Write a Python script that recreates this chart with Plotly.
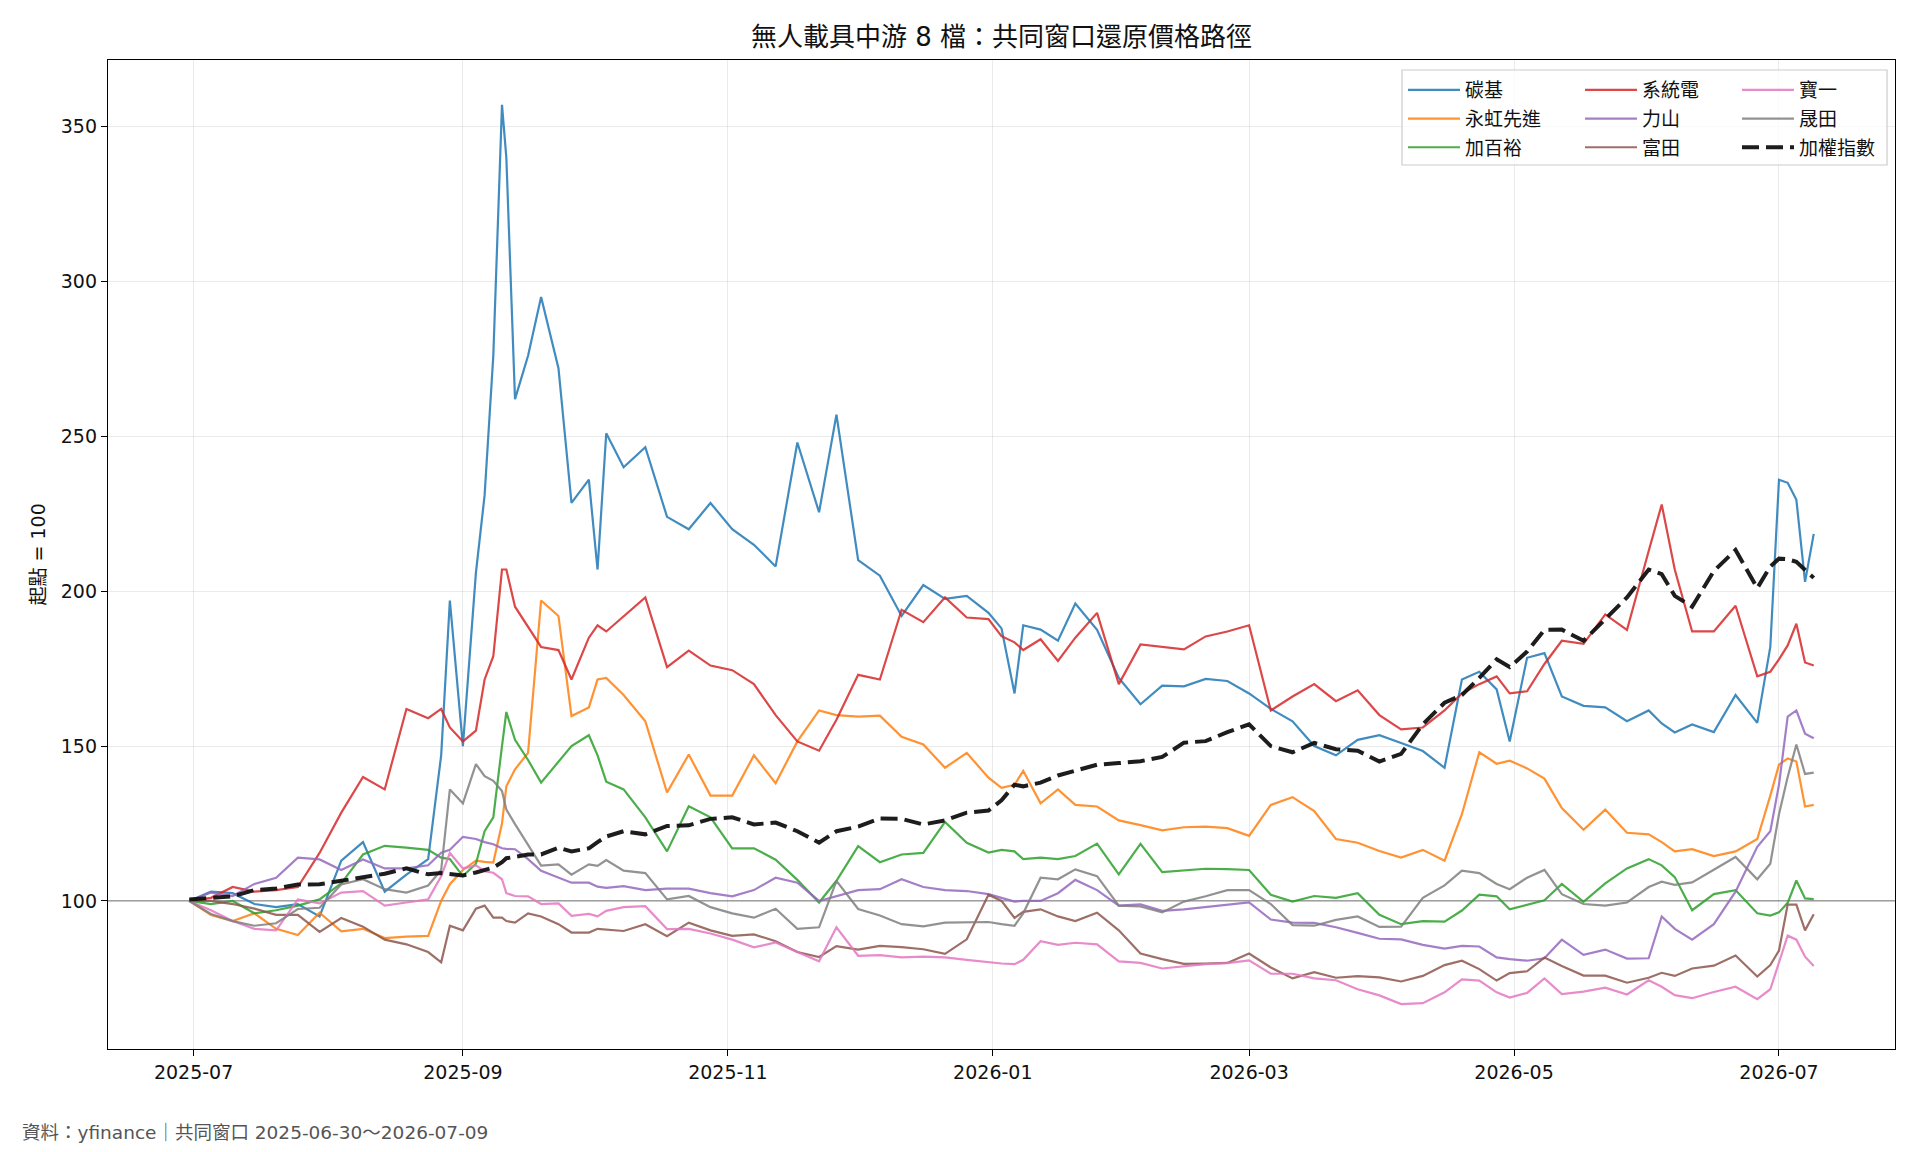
import plotly.graph_objects as go

dates = ["2025-06-30","2025-07-05","2025-07-10","2025-07-15","2025-07-20","2025-07-25","2025-07-30","2025-08-04","2025-08-09","2025-08-14",
         "2025-08-19","2025-08-24","2025-08-27","2025-08-29","2025-09-01","2025-09-04","2025-09-06","2025-09-08","2025-09-10","2025-09-11",
         "2025-09-13","2025-09-16","2025-09-19","2025-09-23","2025-09-26","2025-09-30","2025-10-02","2025-10-04","2025-10-08","2025-10-13",
         "2025-10-18","2025-10-23","2025-10-28","2025-11-02","2025-11-07","2025-11-12","2025-11-17","2025-11-22","2025-11-26","2025-12-01",
         "2025-12-06","2025-12-11","2025-12-16","2025-12-21","2025-12-26","2025-12-31","2026-01-03","2026-01-06","2026-01-08","2026-01-12",
         "2026-01-16","2026-01-20","2026-01-25","2026-01-30","2026-02-04","2026-02-09","2026-02-14","2026-02-19","2026-02-24","2026-03-01",
         "2026-03-06","2026-03-11","2026-03-16","2026-03-21","2026-03-26","2026-03-31","2026-04-05","2026-04-10","2026-04-15","2026-04-19",
         "2026-04-23","2026-04-27","2026-04-30","2026-05-04","2026-05-08","2026-05-12","2026-05-17","2026-05-22","2026-05-27","2026-06-01",
         "2026-06-04","2026-06-07","2026-06-11","2026-06-16","2026-06-21","2026-06-26","2026-06-29","2026-07-01","2026-07-03","2026-07-05",
         "2026-07-07","2026-07-09"]

tanji = [100, 103, 102.5, 99, 98, 99, 95, 113, 119, 103, 108.5, 113.5, 147, 197, 150, 206, 231, 276, 357, 340,
         262, 276, 295, 272, 228.5, 236, 207, 251, 240, 246.5, 224, 220, 228.5, 220, 215, 208, 248, 225.5, 257, 210,
         205, 192, 202, 197.5, 198.5, 193, 188, 167, 189, 187.6, 184, 196, 187.5, 172, 163.5, 169.5, 169.3, 171.7, 171, 167,
         162, 158, 150, 147, 152, 153.5, 151, 148.4, 143, 171.5, 174, 168.3, 151.5, 178.5, 180, 166, 163, 162.5, 158, 161.5,
         157.3, 154.4, 157, 154.5, 166.5, 157.5, 182, 236, 235, 229.5, 203, 218.5]

yonghong = [100, 95.5, 93.5, 96, 91, 89, 96.2, 90.2, 91, 88, 88.5, 88.7, 100, 105.4, 110, 113, 112.6, 112.4, 125, 137,
            142.5, 147.8, 197, 192, 159.7, 162.5, 171.5, 172, 166.5, 158, 135, 147.3, 134, 134, 147, 138, 151.5, 161.5, 160, 159.5,
            159.8, 153, 150.5, 143, 147.8, 139.8, 136.5, 137.5, 142, 131.5, 136, 131, 130.5, 126, 124.5, 122.8, 123.8, 124, 123.5, 121,
            131, 133.5, 129, 120, 118.8, 116.1, 114, 116.5, 113, 128, 148, 144.3, 145.3, 142.8, 139.5, 130, 123, 129.5, 122, 121.5,
            119, 116, 116.7, 114.5, 116, 120, 134, 144, 146, 145, 130.5, 131]

jiabaiyu = [100, 99, 100, 96, 97, 98.5, 100.5, 105.7, 115, 117.8, 117.2, 116.5, 114, 113.5, 108, 112, 122.5, 127, 150, 161,
            152, 145.5, 138.2, 145, 150, 153.5, 147, 138.5, 136, 127, 116, 130.6, 127, 117, 117, 113.3, 106.8, 99.5, 106.5, 117.7,
            112.5, 115, 115.5, 125.5, 118.8, 115.6, 116.5, 116, 113.5, 114, 113.5, 114.5, 118.5, 108.6, 118.4, 109.3, 109.8, 110.4, 110.3, 110,
            102, 99.8, 101.6, 101, 102.5, 95.5, 92.5, 93.5, 93.3, 96.9, 102, 101.5, 97.3, 98.8, 100.2, 105.5, 99.7, 105.7, 110.5, 113.5,
            111.5, 107.7, 97, 102.2, 103.5, 96, 95.3, 96.3, 99.4, 106.6, 100.8, 100.6]

xitongdian = [100, 101, 104.5, 103, 103.5, 104.5, 115.5, 128.5, 140, 136, 162, 159, 162, 156, 151.5, 155, 171.5, 179, 207, 207,
              195, 188.7, 182, 181, 171.5, 185, 189, 187, 192, 198, 175.5, 180.8, 176, 174.5, 170, 160, 151.5, 148.5, 158.5, 173,
              171.5, 194, 190, 198, 191.5, 191, 185.5, 183.5, 181, 184.5, 177.5, 185, 193, 170, 182.8, 182, 181.2, 185.4, 187, 189,
              161.5, 166, 170, 164.5, 168, 160, 155.4, 156, 161.5, 167, 170, 172.5, 167, 167.7, 176.5, 184, 183, 192.5, 187.5, 213,
              228, 207, 187, 187, 195.3, 172.5, 174, 178, 182.5, 189.5, 177, 176]

lishan = [100, 102.7, 101.6, 105.5, 107.5, 114, 113.4, 110, 113.4, 110.5, 110.5, 111.5, 115.6, 116.5, 120.7, 120, 119, 118.3, 117, 116.8,
          116.7, 113.5, 109.7, 107.5, 105.9, 105.9, 104.6, 104.2, 104.8, 103.5, 104, 104, 102.5, 101.5, 103.5, 107.5, 105.9, 100, 101.5, 103.5,
          103.8, 107, 104.5, 103.5, 103.2, 102.2, 101, 99.8, 100, 100, 102.5, 106.8, 103.5, 98.5, 98.9, 96.8, 97.3, 98, 98.6, 99.5,
          94, 93, 92.9, 91.5, 89.7, 87.8, 87.6, 85.8, 84.6, 85.5, 85.3, 81.8, 81.2, 80.7, 81.5, 87.5, 82.6, 84.3, 81.4, 81.5,
          95, 91, 87.5, 92.5, 103, 117.5, 122.5, 137.5, 159.5, 161.5, 154, 152.5]

futian = [100, 100, 99, 97.5, 95.5, 95.5, 90, 94.5, 91.7, 87.5, 86, 83.5, 80.2, 92, 90.5, 97.5, 98.5, 94.6, 94.6, 93.5,
          93, 96, 95, 92.5, 89.8, 89.8, 91, 90.7, 90.3, 92.5, 88.6, 93, 90.5, 88.7, 89.2, 87, 83.5, 81.9, 85.4, 84.3,
          85.5, 85.1, 84.4, 82.9, 87.6, 102, 100, 94.5, 96.5, 97.3, 95, 93.5, 96.2, 90.5, 83, 81.2, 79.7, 79.8, 80, 83,
          78.5, 75, 77, 75.2, 75.7, 75.3, 74, 75.8, 79.3, 80.7, 78, 74.3, 76.7, 77.3, 81.7, 79, 75.9, 75.9, 73.6, 75.2,
          76.8, 75.8, 78.2, 79.1, 82.4, 75.6, 79.3, 84, 98.8, 98.8, 90.5, 95.7]

baoyi = [100, 97, 93.5, 91, 90.5, 100.5, 99.2, 102.7, 103.2, 98.5, 99.5, 100.5, 108, 115.5, 110.5, 111.5, 109.6, 109.1, 107, 102.5,
         101.6, 101.5, 99, 99.2, 95.2, 95.8, 95, 96.8, 98, 98.3, 90.9, 91, 89.5, 87.5, 85, 86.6, 83.5, 80.5, 91.5, 82.3,
         82.5, 81.8, 82, 81.8, 81, 80.1, 79.8, 79.6, 81, 87, 85.8, 86.5, 86, 80.5, 80, 78.2, 78.9, 79.6, 79.9, 80.8,
         76.5, 76.5, 75, 74.4, 71.5, 69.5, 66.7, 67, 70.5, 74.7, 74.3, 70.5, 68.8, 70.3, 75, 69.9, 70.7, 72, 69.8, 74.4,
         72.3, 69.6, 68.6, 70.6, 72.3, 68.3, 71.5, 80.5, 88.8, 87.5, 82, 79]

shengtian = [100, 95.8, 93.5, 92, 92.8, 97.4, 97.8, 105.3, 107, 103.8, 102.7, 105, 110, 136, 131.5, 144.2, 140.3, 138.8, 135.5, 129.5,
             124.8, 118, 111.4, 111.8, 108.5, 111.8, 111.3, 113.2, 109.8, 109, 100.5, 101.6, 98, 96, 94.6, 97.5, 91, 91.5, 106.5, 97.4,
             95.3, 92.5, 91.8, 93, 93, 93.2, 92.5, 92, 96, 107.5, 107, 110.2, 108, 98.5, 98.2, 96.3, 99.8, 101.5, 103.5, 103.5,
             99, 92.2, 92, 93.9, 95, 91.6, 91.7, 101, 105, 109.8, 109, 105.5, 103.8, 107.5, 110, 102.2, 99, 98.5, 99.5, 104.5,
             106.2, 105.2, 106, 110, 114.2, 107, 112, 128, 140, 150.5, 141, 141.4]

taiex = [100.5, 101, 101.5, 103.5, 104, 105.3, 105.4, 106.5, 107.5, 108.8, 110.5, 108.6, 109, 108.8, 108.2, 109.2, 110, 110.8, 112.5, 113.8,
         114.2, 115, 115, 117.2, 116, 117, 119, 120.8, 122.5, 121.5, 124.2, 124.4, 126.5, 127, 124.7, 125.3, 122.5, 118.8, 122.5, 124,
         126.6, 126.5, 124.7, 126, 128.5, 129.2, 132.5, 137.5, 137, 138.2, 140.5, 142.2, 144, 144.5, 145.1, 146.5, 151.1, 151.6, 154.5, 157,
         150, 148, 151, 149, 148.5, 145, 147.5, 157, 164, 166.5, 172, 178, 175.5, 180.5, 187.5, 187.6, 184, 191, 198, 207,
         205.5, 198.5, 195, 206.5, 213.3, 201, 208, 210.5, 210.3, 209.5, 207, 204.3]

names = ["碳基", "永虹先進", "加百裕", "系統電", "力山", "富田", "寶一", "晟田", "加權指數"]
values = [tanji, yonghong, jiabaiyu, xitongdian, lishan, futian, baoyi, shengtian, taiex]
colors = ["rgba(31,119,180,0.85)", "rgba(255,127,14,0.85)", "rgba(44,160,44,0.85)",
          "rgba(214,39,40,0.85)", "rgba(148,103,189,0.85)", "rgba(140,86,75,0.85)",
          "rgba(227,119,194,0.85)", "rgba(127,127,127,0.85)", "rgba(17,17,17,0.95)"]
legend_ids = ["legend", "legend", "legend", "legend2", "legend2", "legend2", "legend3", "legend3", "legend3"]

x_ticks = ["2025-07-01", "2025-09-01", "2025-11-01", "2026-01-01", "2026-03-01", "2026-05-01", "2026-07-01"]
x_ticktext = ["2025-07", "2025-09", "2025-11", "2026-01", "2026-03", "2026-05", "2026-07"]
y_ticks = [100, 150, 200, 250, 300, 350]

for v in values:
    assert len(v) == len(dates)

W, H = 1920, 1152
L, R, T, B = 108, 1895, 60, 1049
pw, ph = R - L, B - T

def px(xp):
    return (xp - L) / pw

def py(yp):
    return 1 - (yp - T) / ph

FONT = "DejaVu Sans, Noto Sans CJK TC"
CJK = "Noto Sans CJK TC"

fig = go.Figure()
for name, v, c, lg in zip(names, values, colors, legend_ids):
    if name == "加權指數":
        line = dict(color=c, width=4, dash="17px,7px")
    else:
        line = dict(color=c, width=2.2)
    fig.add_trace(go.Scatter(x=dates, y=v, name=name, mode="lines", line=line,
                             legend=lg, legendgroup=name, hoverinfo="skip"))

leg_common = dict(font=dict(family=CJK, size=19, color="#111"), bgcolor="rgba(0,0,0,0)",
                  borderwidth=0, yanchor="top", xanchor="left", tracegroupgap=1, itemwidth=52,
                  y=py(71))
fig.update_layout(
    width=W, height=H,
    margin=dict(l=L, r=W - R, t=T, b=H - B),
    paper_bgcolor="white", plot_bgcolor="white",
    font=dict(family=FONT, size=19, color="#111"),
    showlegend=True,
    legend=dict(x=px(1403), **leg_common),
    legend2=dict(x=px(1580), **leg_common),
    legend3=dict(x=px(1737), **leg_common),
    xaxis=dict(type="date", range=["2025-06-11 07:00", "2026-07-27 17:00"],
               tickvals=x_ticks, ticktext=x_ticktext,
               showgrid=True, gridcolor="rgba(0,0,0,0.08)", gridwidth=1,
               showline=True, linecolor="black", linewidth=1.3, mirror=True,
               ticks="outside", ticklen=6, tickcolor="black", tickwidth=1.3,
               tickfont=dict(family=FONT, size=19, color="#111"), zeroline=False),
    yaxis=dict(range=[52.2, 371.5], tickvals=y_ticks,
               showgrid=True, gridcolor="rgba(0,0,0,0.08)", gridwidth=1,
               showline=True, linecolor="black", linewidth=1.3, mirror=True,
               ticks="outside", ticklen=6, tickcolor="black", tickwidth=1.3,
               tickfont=dict(family=FONT, size=19, color="#111"), zeroline=False),
)

fig.add_shape(type="line", xref="paper", yref="y", x0=0, x1=1, y0=100, y1=100,
              line=dict(color="rgba(128,128,128,0.85)", width=1.3), layer="between")
fig.add_shape(type="rect", xref="paper", yref="paper",
              x0=px(1402), x1=px(1887), y0=py(165), y1=py(70),
              line=dict(color="#cccccc", width=1.2), fillcolor="rgba(255,255,255,0.8)", layer="above")

fig.add_annotation(text="無人載具中游 8 檔：共同窗口還原價格路徑", xref="paper", yref="paper",
                   x=0.5, y=py(37), xanchor="center", yanchor="middle", showarrow=False,
                   font=dict(family=FONT, size=26, color="#111"))
fig.add_annotation(text="起點 = 100", xref="paper", yref="paper", x=px(37), y=0.5,
                   xanchor="center", yanchor="middle", textangle=-90, showarrow=False,
                   font=dict(family=FONT, size=19, color="#111"))
fig.add_annotation(text="資料：yfinance｜共同窗口 2025-06-30～2026-07-09", xref="paper", yref="paper",
                   x=px(20), y=py(1132), xanchor="left", yanchor="middle", showarrow=False,
                   font=dict(family=FONT, size=18.5, color="#555"))

fig.write_html("out.html")
